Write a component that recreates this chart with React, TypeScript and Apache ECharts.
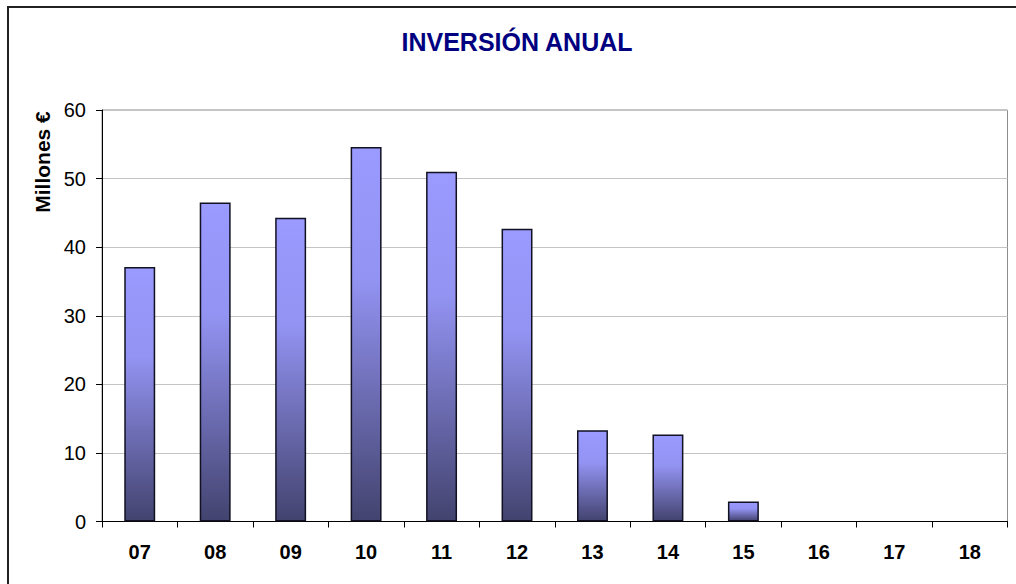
import React, { useEffect, useRef } from "react";
import * as echarts from "echarts";

const categories = ["07", "08", "09", "10", "11", "12", "13", "14", "15", "16", "17", "18"];
const inversion = [37.1, 46.5, 44.3, 54.6, 51.0, 42.7, 13.3, 12.7, 2.9, 0, 0, 0];
const yTicks = { min: 0, max: 60, interval: 10 };
const titleText = "INVERSIÓN ANUAL";
const yName = "Millones €";

const FONT = "'Liberation Sans', Arial, sans-serif";

export default function App() {
  const ref = useRef<HTMLDivElement>(null);
  useEffect(() => {
    if (!ref.current) return;
    const chart = echarts.init(ref.current, undefined, { renderer: "svg" });
    chart.setOption({
      animation: false,
      backgroundColor: "#ffffff",
      grid: {
        left: 102,
        right: 8.5,
        top: 110,
        bottom: 62.5,
        show: true,
        borderColor: "#8c8c8c",
        borderWidth: 1,
        containLabel: false,
      },
      graphic: [
        {
          type: "rect",
          shape: { x: 8, y: 7, width: 1200, height: 800 },
          style: { fill: "none", stroke: "#222", lineWidth: 2 },
          silent: true,
          z: 100,
        },
        {
          type: "text",
          x: 517,
          y: 42,
          style: {
            text: titleText,
            font: `bold 25px ${FONT}`,
            fill: "#000080",
            align: "center",
            verticalAlign: "middle",
          },
        },
        {
          type: "text",
          x: 42,
          y: 162,
          rotation: Math.PI / 2,
          style: {
            text: yName,
            font: `bold 21px ${FONT}`,
            fill: "#000",
            align: "center",
            verticalAlign: "middle",
          },
        },
      ],
      xAxis: {
        type: "category",
        data: categories,
        boundaryGap: true,
        axisLine: { show: true, lineStyle: { color: "#000", width: 1 } },
        axisTick: { show: true, length: 6, alignWithLabel: false, lineStyle: { color: "#000" } },
        axisLabel: {
          margin: 20,
          fontFamily: FONT,
          fontSize: 20,
          fontWeight: "bold",
          color: "#000",
        },
        splitLine: { show: false },
      },
      yAxis: {
        type: "value",
        min: yTicks.min,
        max: yTicks.max,
        interval: yTicks.interval,
        axisLine: { show: true, lineStyle: { color: "#000", width: 1 } },
        axisTick: { show: true, length: 6, lineStyle: { color: "#000" } },
        axisLabel: {
          margin: 16,
          fontFamily: FONT,
          fontSize: 20,
          color: "#000",
        },
        splitLine: { show: true, lineStyle: { color: "#c4c4c4", width: 1 } },
      },
      series: [
        {
          type: "bar",
          data: inversion.map((v) =>
            v === 0 ? { value: v, itemStyle: { borderWidth: 0, opacity: 0 } } : v
          ),
          barWidth: "41%",
          itemStyle: {
            color: new echarts.graphic.LinearGradient(0, 0, 0, 1, [
              { offset: 0, color: "#9a9aff" },
              { offset: 0.35, color: "#9393f3" },
              { offset: 1, color: "#43436f" },
            ]),
            borderColor: "#111122",
            borderWidth: 1.5,
          },
        },
      ],
    });
    return () => chart.dispose();
  }, []);
  return (
    <div
      ref={ref}
      style={{ position: "fixed", left: 0, top: 0, width: 1016, height: 584 }}
    />
  );
}
